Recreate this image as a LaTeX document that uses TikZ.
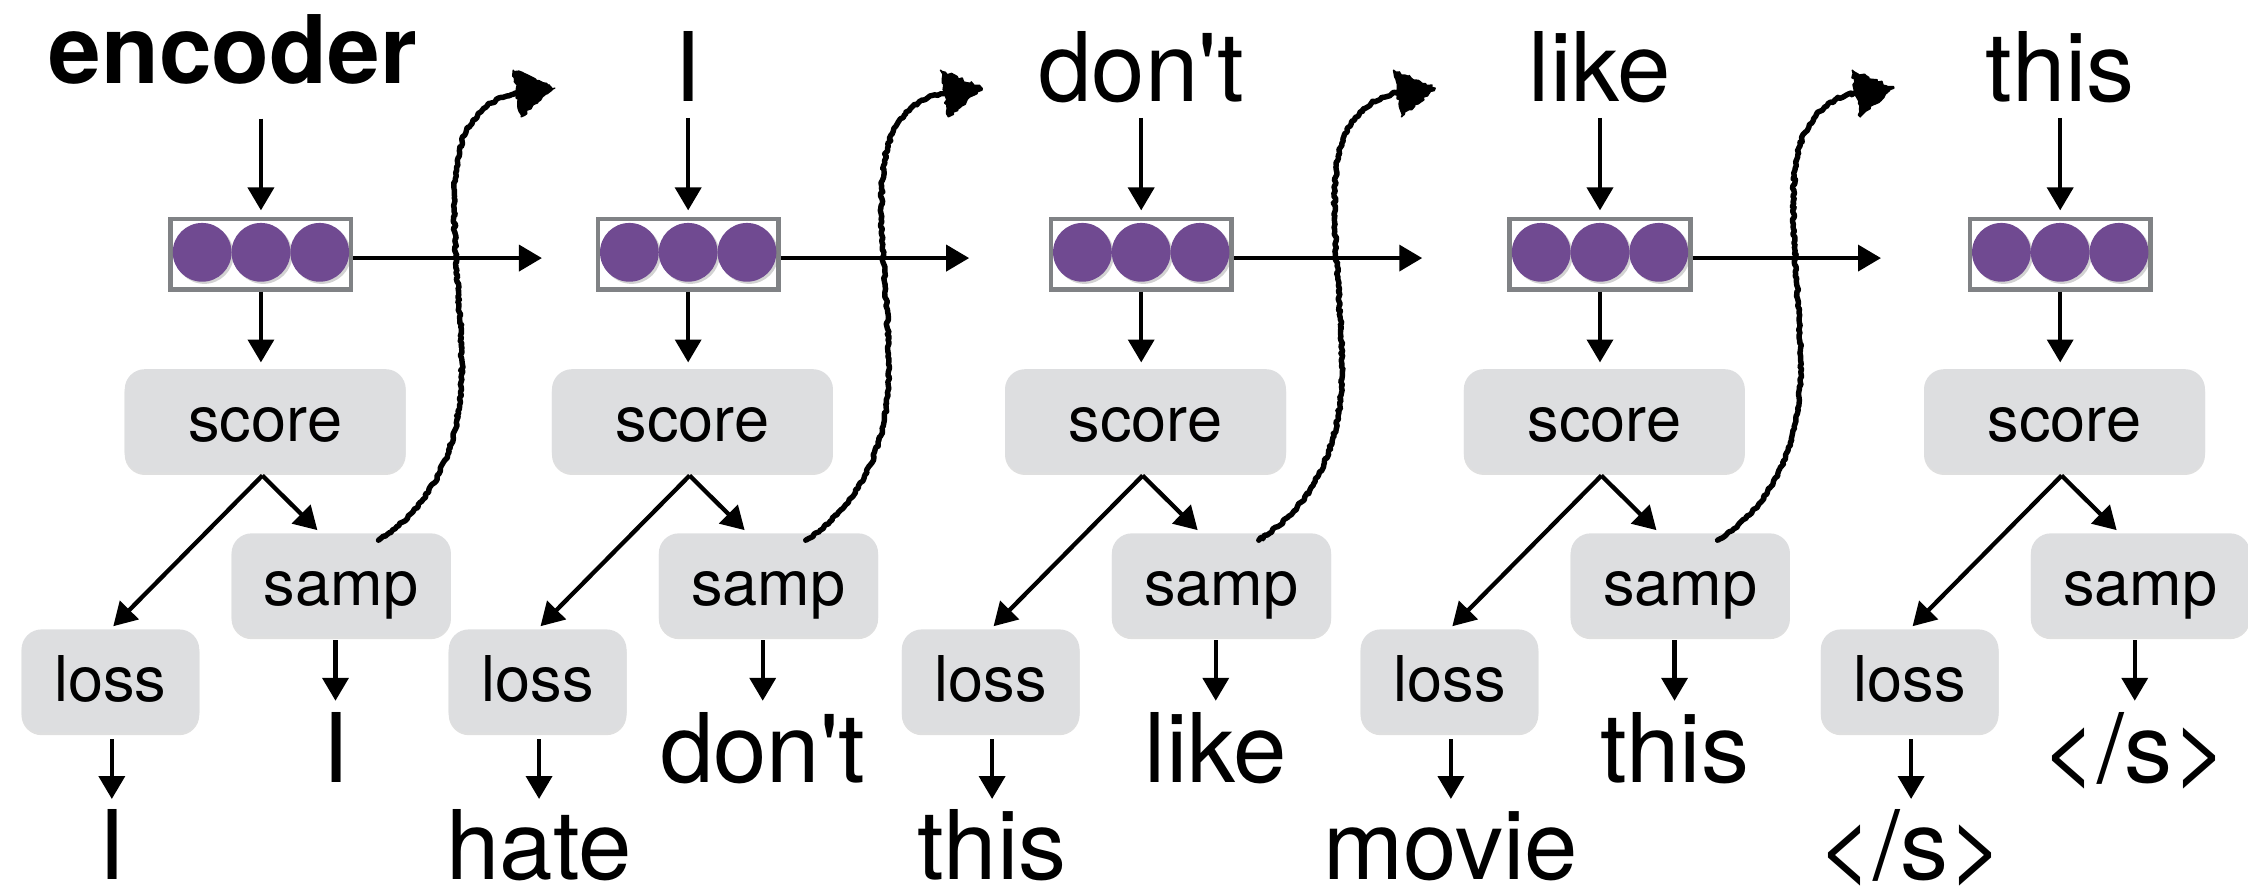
\documentclass[tikz,border=0pt]{standalone}
\usepackage{fontspec}
\setmainfont{TeX Gyre Heros}[Ligatures=TeXOff]
\usetikzlibrary{arrows.meta,calc,shadows,decorations.pathmorphing}

\definecolor{cellpurple}{RGB}{112,74,145}
\definecolor{boxgray}{RGB}{128,130,133}
\definecolor{opgray}{RGB}{221,222,224}

\tikzset{
  arr/.style={line width=3pt, -{Triangle[length=16pt,width=18pt]}},
  vecbox/.style={draw=boxgray, line width=3.1pt, fill=white,
    minimum width=126pt, minimum height=49pt, inner sep=0pt},
  cell/.style={circle, fill=cellpurple, minimum size=41pt, inner sep=0pt,
    drop shadow={shadow xshift=1.5pt, shadow yshift=-1.5pt, opacity=0.35}},
  op/.style={rounded corners=14pt, fill=opgray, inner sep=0pt, minimum height=72pt,
    text height=29pt, text depth=0pt, font=\fontsize{44}{44}\selectfont,
    drop shadow={shadow xshift=0pt, shadow yshift=-1.8pt, opacity=0.25}},
  word/.style={anchor=base, inner sep=0pt, text height=48pt, text depth=0pt,
    font=\fontsize{67}{67}\selectfont},
  scribble/.style={line width=3.8pt, line join=round, line cap=round, decorate,
    decoration={random steps, segment length=1.8pt, amplitude=0.9pt}},
  scribblehead/.style={fill, draw, line width=1pt, line join=round, decorate,
    decoration={random steps, segment length=2pt, amplitude=1.2pt}},
}

% one decoder step: #1 index, #2 centre x, #3 sampled word, #4 reference word
\newcommand{\drawblock}[4]{%
  \node[vecbox] (box#1) at (#2,177.3) {};
  \foreach \dx/\n in {-41/a,0/b,41/c}
    \node[cell] (cell#1\n) at ({#2+(\dx)},176) {};
  \node[op, minimum width=196pt] (score#1) at (#2+3,293.5) {score};
  \node[op, minimum width=153pt] (samp#1) at (#2+56,408) {samp};
  \node[op, minimum width=124pt] (loss#1) at (#2-105,475) {loss};
  \node[word] (sw#1) at (#2+52,546) {#3};
  \node[word] (lw#1) at (#2-104,613.5) {#4};
  \draw[arr, shorten >=4.5pt] (box#1.south) -- (box#1.south |- score#1.north);
  \draw[arr] ($(score#1.south)+(-2,2)$) -- ($(loss#1.north)+(2,-2)$);
  \draw[arr] ($(score#1.south)+(-2,2)$) -- ($(samp#1.north)+(-16.6,-2)$);
  \draw[arr, shorten <=2.4pt, shorten >=9pt] (samp#1.south -| sw#1.north) -- (sw#1.north);
  \draw[arr, shorten <=4.5pt, shorten >=8pt] (loss#1.south -| lw#1.north) -- (lw#1.north);
}

% hidden state handed on to the next step, and the sample fed back as input
\newcommand{\drawfeed}[2]{%
  \coordinate (nx#1) at (#2+196,180);
  \draw[arr] (box#1.east |- nx#1) -- (nx#1);
  \coordinate (tip#1) at (#2+180,64.5);
  \draw[scribble] ($(samp#1.north)+(26,5)$)
    .. controls (#2+122,352) and (#2+142,305) .. (#2+140,250)
    .. controls (#2+139,200) and (#2+131,150) .. (#2+137,112)
    .. controls (#2+141,85) and (#2+158,68) .. (tip#1);
  \path[scribblehead] (#2+176,49) -- (#2+205,61.5) -- (#2+181.5,81.5) -- cycle;
}

\begin{document}
\begin{tikzpicture}[x=1pt, y=-1pt]
  \useasboundingbox (0,0) rectangle (1568,619);

  \drawblock{1}{182}{I}{I}
  \drawblock{2}{480}{don't}{hate}
  \drawblock{3}{796}{like}{this}
  \drawblock{4}{1116}{this}{movie}
  \drawblock{5}{1437}{</s>}{</s>}

  % inputs on top
  \node[anchor=base, inner sep=0pt, text depth=0pt, font=\fontsize{66}{66}\selectfont\bfseries]
    (tw1) at (162.5,58) {encoder};
  \node[word] (tw2) at (480,71) {I};
  \node[word] (tw3) at (796,71) {don't};
  \node[word] (tw4) at (1116,71) {like};
  \node[word] (tw5) at (1437,71) {this};

  \draw[arr, shorten <=24.5pt, shorten >=4.5pt] (tw1.south -| box1.north) -- (box1.north);
  \foreach \i in {2,...,5}
    \draw[arr, shorten <=11pt, shorten >=4.5pt] (tw\i.south -| box\i.north) -- (box\i.north);

  \drawfeed{1}{182}
  \drawfeed{2}{480}
  \drawfeed{3}{796}
  \drawfeed{4}{1116}
\end{tikzpicture}
\end{document}
